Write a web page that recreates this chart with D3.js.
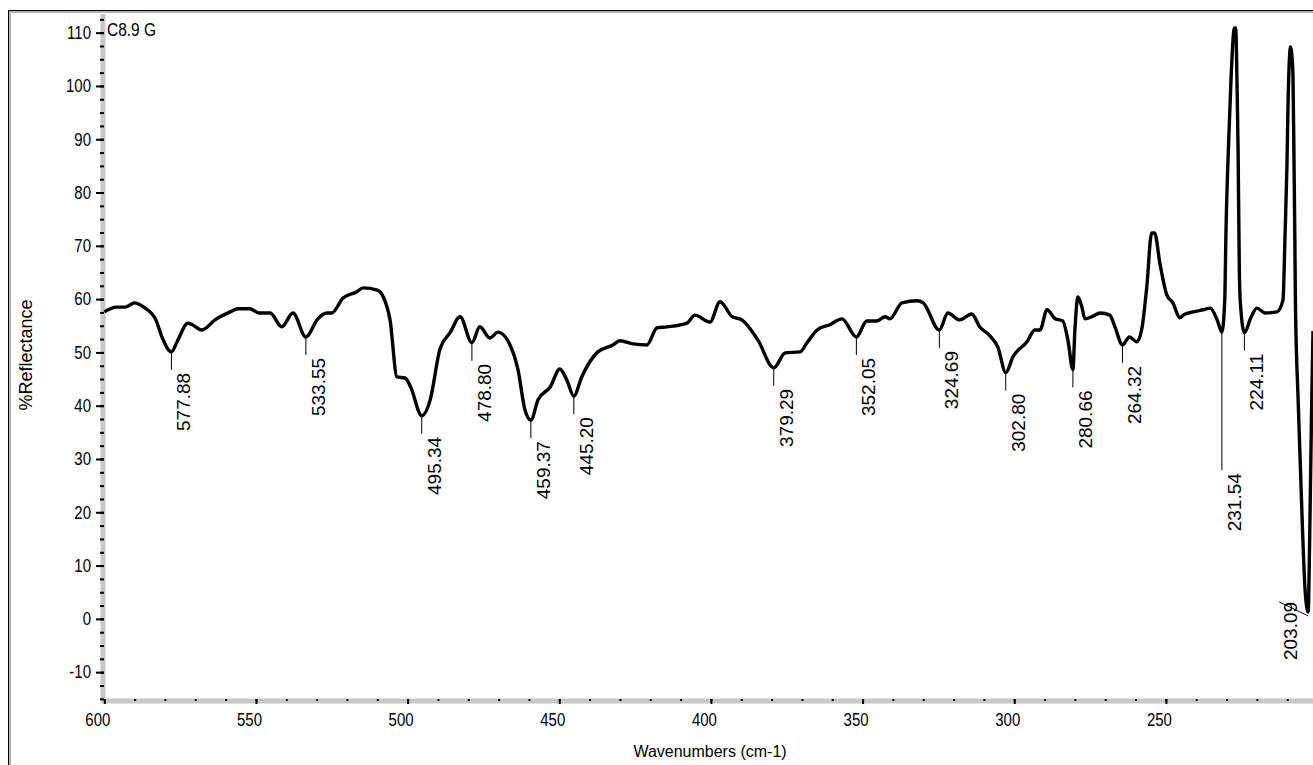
<!DOCTYPE html>
<html>
<head>
<meta charset="utf-8">
<script src="https://cdn.jsdelivr.net/npm/d3@7"></script>
<style>
  body { margin: 0; background: #fff; }
  svg { display: block; font-family: "Liberation Sans", Arial, sans-serif; }
</style>
</head>
<body>
<div id="chart-area"></div>
<script>
// spectrum (wavenumber cm-1, % reflectance)
var wavenumbers = [600, 596, 593, 590, 587, 583, 581, 577.88, 576, 572.4, 571, 567.8, 563.5, 558.5, 556, 552, 549, 545.3,
    541.5, 537.8, 533.55, 529.6, 526.6, 525, 521.3, 516.7, 514.7, 510, 508, 505.8, 503.5, 500.8, 499, 495.34, 492.6,
    489.3, 486, 482.7, 478.8, 476.2, 472.9, 470.2, 465.3, 463.6, 461.3, 459.37, 457, 453, 449.8, 447.5, 445.2, 442.6,
    437.3, 432.3, 430, 425.7, 421.1, 417.8, 414.5, 407.9, 405.3, 400.3, 397, 393, 389.8, 384.5, 379.29, 375.5, 370.6,
    368.3, 365, 360.8, 356.8, 352.05, 348.6, 345.3, 342.6, 341, 337, 332, 330, 324.69, 321.9, 318, 314, 311.4, 308,
    305.4, 302.8, 300.4, 295.8, 293.2, 291.5, 289.2, 286.5, 284, 282.3, 280.66, 280, 279, 277.7, 276.7, 274, 271.7,
    268.5, 266.8, 264.32, 262, 259.6, 258, 256.3, 254.7, 253.7, 252, 249.7, 247.7, 245.4, 244.3, 241, 237.7, 235.4,
    233.1, 231.54, 230.6, 230.2, 229.2, 228.5, 227.4, 227.0, 226.5, 226.2, 225.8, 225.5, 224.11, 222, 220, 217.3,
    213.4, 211.4, 210.7, 210.1, 209.7, 208.9, 208.5, 208.1, 207.8, 207.5, 207.3, 206.4, 205.1, 204.1, 203.09, 202.6,
    202.0, 201.5];
var reflectance = [57.6, 58.5, 58.5, 59.3, 58.5, 56.1, 52.9, 50.1, 52, 55.5, 55.2, 54.2, 56.1, 57.6, 58.2, 58.2, 57.4, 57.4,
    54.8, 57.4, 52.9, 56.3, 57.4, 57.4, 60.2, 61.4, 62.1, 61.7, 60.4, 56.1, 45.4, 45.2, 43.5, 38.1, 41.0,
    50.7, 53.7, 56.7, 51.8, 54.8, 52.7, 53.8, 50.1, 46.7, 39.2, 37.3, 41.1, 43.5, 46.9, 44.8, 41.8, 45.4,
    50.1, 51.4, 52.2, 51.6, 51.4, 54.6, 54.8, 55.5, 57, 55.7, 59.5, 56.7, 56.1, 52.3, 47.1, 49.9, 50.1,
    51.8, 54.2, 55.2, 56.3, 52.9, 55.9, 55.9, 56.7, 56.3, 59.3, 59.7, 59.3, 54.2, 57.4, 56.1, 57.2, 54.8, 53.1,
    51, 46.2, 49.2, 52, 54.2, 54.2, 58, 56.3, 55.9, 52.3, 46.8, 54.2, 60.4, 58.5, 56.3, 56.8, 57.4,
    57, 54.8, 51.4, 52.9, 52, 54.2, 62.3, 72.4, 72.4, 66.8, 60.8, 59.3, 56.5, 57, 57.6, 58, 58.3,
    56.1, 53.8, 59.8, 72.4, 91.2, 101.7, 110.9, 110.9, 98.7, 88, 66, 59.8, 53.7, 56.5, 58.3, 57.4,
    57.6, 59.8, 72.4, 84.8, 97.4, 107.3, 106, 101.7, 88, 72.4, 59.8, 41, 19, 5.4, 1.3, 15,
    38, 54];

// labelled peaks
var peakWn = [577.88, 533.55, 495.34, 478.80, 459.37, 445.20, 379.29, 352.05, 324.69, 302.80, 280.66, 264.32, 231.54, 224.11, 203.09];
var peakVal = [50.1, 52.9, 38.1, 51.8, 37.3, 41.8, 47.1, 52.9, 54.2, 46.2, 46.8, 51.4, 53.8, 53.7, 1.3];

var xMajor = [600, 550, 500, 450, 400, 350, 300, 250];
var yMajor = [-10, 0, 10, 20, 30, 40, 50, 60, 70, 80, 90, 100, 110];

var W = 1313, H = 765;

var svg = d3.select("#chart-area")
    .append("svg")
        .attr("width", W)
        .attr("height", H);

svg.append("rect").attr("width", W).attr("height", H).attr("fill", "#fff");

// sunken window frame (top and left only visible)
svg.append("path").attr("d", "M9.5,765V11.5H1313").attr("fill", "none").attr("stroke", "#b4b4a4").attr("stroke-width", 3);
svg.append("path").attr("d", "M8.5,765V10.5H1313").attr("fill", "none").attr("stroke", "#000").attr("stroke-width", 1);

var x = d3.scaleLinear().domain([600, 201.5]).range([104.3, 1313]);
var y = d3.scaleLinear().domain([-15.6, 113.5]).range([702, 14]);

// grey axis bars
svg.append("line").attr("x1", 103).attr("x2", 103).attr("y1", 14).attr("y2", 703)
    .attr("stroke", "#c8c8c8").attr("stroke-width", 5);
svg.append("line").attr("x1", 101).attr("x2", W).attr("y1", 701).attr("y2", 701)
    .attr("stroke", "#c8c8c8").attr("stroke-width", 5);

var plain = function(d){ return String(d); };

// y axis
var yMinor = d3.range(-15, 113, 2.5);
svg.append("g")
    .attr("class", "y-minor")
    .attr("transform", "translate(104,0)")
    .call(d3.axisLeft(y).tickValues(yMinor).tickSize(4).tickFormat(""))
    .call(function(g){ g.select(".domain").remove(); });

var yAxis = svg.append("g")
    .attr("class", "y-axis")
    .attr("transform", "translate(104,0)")
    .call(d3.axisLeft(y).tickValues(yMajor).tickSize(8).tickPadding(5).tickFormat(plain));
yAxis.select(".domain").remove();
// old windows font is tall and narrow, so stretch a bit
yAxis.selectAll("text").attr("font-size", "15px").attr("font-family", null).attr("fill", "#000")
    .attr("transform", "scale(1,1.2)");

// x axis
svg.append("g")
    .attr("class", "x-minor")
    .attr("transform", "translate(0,699)")
    .call(d3.axisBottom(x).tickValues(d3.range(600, 200, -10)).tickSize(2).tickFormat(""))
    .call(function(g){ g.select(".domain").remove(); });

var xAxis = svg.append("g")
    .attr("class", "x-axis")
    .attr("transform", "translate(0,699)")
    .call(d3.axisBottom(x).tickValues(xMajor).tickSize(5).tickFormat(plain));
xAxis.select(".domain").remove();
xAxis.selectAll("text").attr("font-size", "15px").attr("font-family", null)
    .attr("fill", "#000").attr("dx", -7).attr("y", 11.6)
    .attr("transform", "scale(1,1.2)");

svg.selectAll(".tick line").attr("stroke", "#000").attr("stroke-width", 2);

// axis titles
svg.append("text")
    .attr("x", 710)
    .attr("y", 757)
    .attr("font-size", "16px")
    .attr("text-anchor", "middle")
    .text("Wavenumbers (cm-1)");

svg.append("text")
    .attr("transform", "translate(32,355) rotate(-90)")
    .attr("font-size", "18px")
    .attr("text-anchor", "middle")
    .text("%Reflectance");

svg.append("text")
    .attr("transform", "translate(107,36) scale(1,1.15)")
    .attr("font-size", "15.5px")
    .text("C8.9 G");

// spectrum
var pts = wavenumbers.map(function(w, i){ return [w, reflectance[i]]; });
var line = d3.line()
    .x(function(d){ return x(d[0]); })
    .y(function(d){ return y(d[1]); })
    .curve(d3.curveMonotoneX);

svg.append("path")
    .datum(pts)
    .attr("fill", "none")
    .attr("stroke", "#000")
    .attr("stroke-width", 3.4)
    .attr("stroke-linejoin", "round")
    .attr("d", line);

// peak labels with leader lines
var peaks = peakWn.map(function(w, i){ return { wn: w, val: peakVal[i] }; });
var labels = svg.append("g").attr("class", "peaks");

peaks.forEach(function(p){
    var px = x(p.wn), py = y(p.val);
    var g = labels.append("g");
    if (p.wn < 210) {
        // last one sits to the left, slanted leader
        g.append("line").attr("x1", px).attr("y1", py + 4).attr("x2", px - 29).attr("y2", py - 10)
            .attr("stroke", "#000").attr("stroke-width", 1);
        g.append("text")
            .attr("transform", "translate(" + (px - 11) + "," + (py - 10) + ") rotate(-90)")
            .attr("text-anchor", "end")
            .attr("font-size", "19px")
            .text(d3.format(".2f")(p.wn));
        return;
    }
    var len = p.wn > 231 && p.wn < 232 ? 138 : 18;
    g.append("line").attr("x1", px).attr("x2", px).attr("y1", py).attr("y2", py + len)
        .attr("stroke", "#000").attr("stroke-width", 1);
    g.append("text")
        .attr("transform", "translate(" + (px + 19) + "," + (py + len + 3) + ") rotate(-90)")
        .attr("text-anchor", "end")
        .attr("font-size", "19px")
        .text(d3.format(".2f")(p.wn));
});
</script>
</body>
</html>
